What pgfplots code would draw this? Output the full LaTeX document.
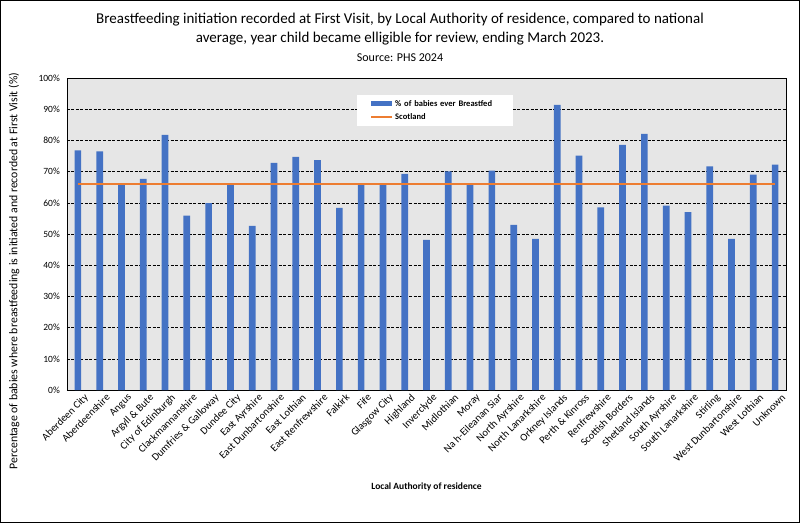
\documentclass[border=0pt]{standalone}
\usepackage{pgfplots}
\pgfplotsset{compat=1.18}
\usepackage{fontspec}
\setmainfont{Carlito}
\definecolor{barblue}{HTML}{4472C4}
\definecolor{lineorange}{HTML}{ED7D31}
\definecolor{plotbg}{HTML}{E6E6E6}
\begin{document}
\begin{tikzpicture}
\useasboundingbox (0pt,0pt) rectangle (800pt,523pt);
\draw[line width=1pt] (0.5pt,0.5pt) rectangle (799.5pt,522.5pt);
\node[align=center, font=\fontsize{15}{19}\selectfont] at (400pt,486pt)
  {Breastfeeding initiation recorded at First Visit, by Local Authority of residence, compared to national\\
   average, year child became elligible for review, ending March 2023.\\
   {\fontsize{12}{19}\selectfont Source: PHS 2024}};
\begin{axis}[
  at={(67pt,133pt)}, anchor=south west, scale only axis,
  width=719pt, height=312pt,
  xmin=-0.5, xmax=32.5, ymin=0, ymax=100,
  axis background/.style={fill=plotbg},
  axis line style={black, line width=0.8pt},
  ytick={0,10,...,100},
  yticklabel={\pgfmathprintnumber{\tick}\%},
  /pgf/number format/assume math mode=true,
  ymajorgrids,
  grid style={black, dash pattern=on 3pt off 1.5pt, line width=0.6pt},
  major tick length=0pt,
  xtick={0,...,32},
  xticklabels={Aberdeen City,Aberdeenshire,Angus,Argyll \& Bute,City of Edinburgh,Clackmannanshire,Dumfries \& Galloway,Dundee City,East Ayrshire,East Dunbartonshire,East Lothian,East Renfrewshire,Falkirk,Fife,Glasgow City,Highland,Inverclyde,Midlothian,Moray,Na h-Eileanan Siar,North Ayrshire,North Lanarkshire,Orkney Islands,Perth \& Kinross,Renfrewshire,Scottish Borders,Shetland Islands,South Ayrshire,South Lanarkshire,Stirling,West Dunbartonshire,West Lothian,Unknown},
  x tick label style={rotate=45, anchor=north east, inner sep=1pt, xshift=3pt, yshift=-5pt, font=\fontsize{10.5}{11}\selectfont},
  y tick label style={font=\fontsize{9.5}{10}\selectfont, inner sep=2pt, xshift=-5pt},
  xlabel={Local Authority of residence},
  xlabel style={at={(axis description cs:0.5,-0.311)}, anchor=center, font=\fontsize{9.5}{10}\selectfont\bfseries},
  ylabel={Percentage of babies where breastfeeding is initiated and recorded at First Visit (\%)},
  ylabel style={at={(axis description cs:-0.0737,0.381)}, anchor=center, font=\fontsize{11.8}{12}\selectfont},
  legend style={at={(0.403,0.9455)}, anchor=north west, draw=none, fill=white,
    font=\fontsize{8.5}{10}\selectfont\bfseries, inner xsep=4pt, inner ysep=3pt,
    row sep=2pt, text width=112pt},
  legend cell align=left,
]
\addplot[ybar, bar width=6.7pt, fill=barblue, draw=none,
  legend image code/.code={\path (-9pt,0pt); \fill[barblue] (0pt,-2.5pt) rectangle (21pt,2.5pt);}]
  coordinates {
  (0,76.8) (1,76.5) (2,65.8) (3,67.7) (4,81.8) (5,55.9) (6,59.9) (7,65.8)
  (8,52.6) (9,72.8) (10,74.7) (11,73.7) (12,58.4) (13,65.8) (14,65.8) (15,69.3)
  (16,48.1) (17,70.1) (18,65.8) (19,70.3) (20,52.9) (21,48.4) (22,91.4) (23,75.1)
  (24,58.5) (25,78.6) (26,82.1) (27,59.1) (28,57.0) (29,71.7) (30,48.4) (31,69.0)
  (32,72.2)};
\addlegendentry{\% of babies ever Breastfed}
\addplot[lineorange, line width=2.5pt,
  legend image code/.code={\path (-9pt,0pt); \draw[lineorange, line width=2pt] (0pt,0pt) -- (21pt,0pt);}]
  coordinates {(0,66.0) (32,66.0)};
\addlegendentry{Scotland}
\end{axis}
\end{tikzpicture}
\end{document}
